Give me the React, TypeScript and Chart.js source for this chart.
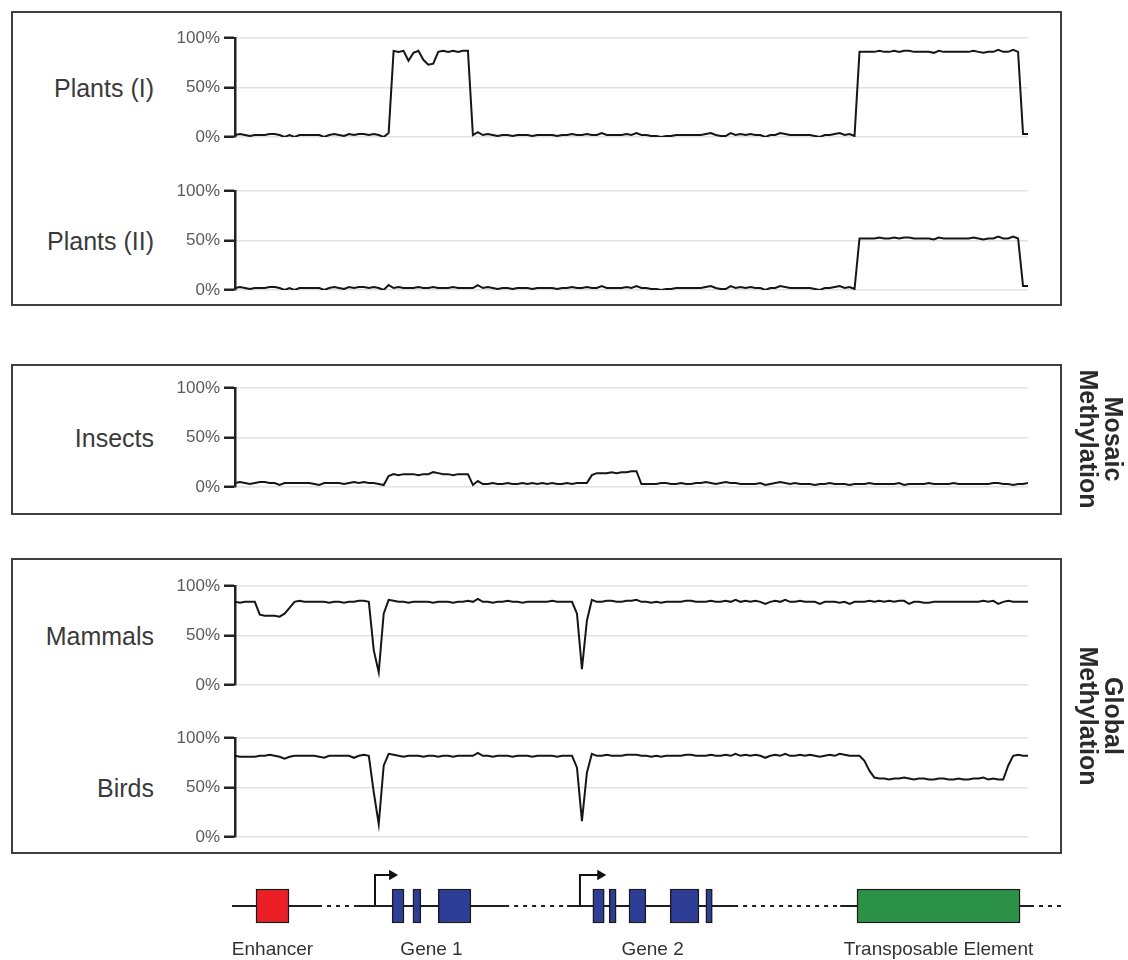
import React, { useEffect, useRef } from "react";
import { Chart, registerables } from "chart.js";

Chart.register(...registerables);

// ---------- DATA ----------
// Genomic bins along the region (0..160)
const POSITIONS: number[] = Array.from({ length: 161 }, (_, i) => i);
const Y_TICKS = [0, 50, 100];

const plantsI: number[] = [
  2, 3, 2, 1, 2, 2, 2, 3, 3, 2, 0, 2, 0, 2, 2, 2, 2, 2, 0, 2, 3, 2, 1, 3, 2, 3, 3, 2, 3, 2, 0, 4,
  87, 86, 87, 77, 85, 87, 78, 73, 74, 86, 87, 86, 87, 86, 87, 87,
  2, 5,
  2, 3, 2, 1, 2, 2, 1, 2, 2, 2, 1, 2, 2, 2, 2, 1, 2, 2, 3, 2, 2, 3, 2, 2, 4, 2, 2, 2, 2, 3,
  2, 4, 2, 2, 1, 1, 0, 1, 1, 2, 2, 2, 2, 2, 2, 3, 4, 2, 1, 1, 4, 2, 3, 2, 3, 2, 2, 0, 2, 2,
  4, 3, 2, 2, 2, 2, 2, 1, 0, 2, 2, 3, 4, 2, 3, 1,
  86, 86, 86, 86, 87, 86, 86, 87, 86, 87, 87, 86, 86, 86, 86, 85, 87, 86, 86, 86, 86, 86, 86,
  87, 86, 85, 86, 86, 88, 86, 86, 88, 86,
  3, 3,
];

const plantsII: number[] = [
  2, 3, 2, 1, 2, 2, 2, 3, 3, 2, 0, 2, 0, 2, 2, 2, 2, 2, 0, 2, 3, 2, 1, 3, 2, 3, 3, 2, 3, 2, 0, 5,
  2, 3, 2, 2, 2, 3, 2, 2, 3, 2, 2, 2, 3, 2, 2, 2,
  2, 5,
  2, 3, 2, 1, 2, 2, 1, 2, 2, 2, 1, 2, 2, 2, 2, 1, 2, 2, 3, 2, 2, 3, 2, 2, 4, 2, 2, 2, 2, 3,
  2, 4, 2, 2, 1, 1, 0, 1, 1, 2, 2, 2, 2, 2, 2, 3, 4, 2, 1, 1, 4, 2, 3, 2, 3, 2, 2, 0, 2, 2,
  4, 3, 2, 2, 2, 2, 2, 1, 0, 2, 2, 3, 4, 2, 3, 1,
  52, 52, 52, 52, 53, 52, 52, 53, 52, 53, 53, 52, 52, 52, 52, 51, 53, 52, 52, 52, 52, 52, 52,
  53, 52, 51, 52, 52, 54, 52, 52, 54, 52,
  4, 4,
];

const insects: number[] = [
  4, 5, 4, 3, 4, 5, 5, 4, 4, 2, 4, 4, 4, 4, 4, 4, 3, 2, 4, 4, 4, 4, 3, 4, 5, 4, 5, 4, 4, 3, 2, 11,
  13, 12, 13, 13, 13, 12, 13, 13, 15, 14, 13, 13, 12, 13, 13, 13,
  2, 6, 3, 3, 4, 3, 3, 4, 3, 3, 4, 3, 4, 3, 4, 3, 4, 3, 3, 4, 3, 4, 4, 4,
  12, 14, 14, 14, 15, 14, 15, 15, 16, 16,
  3, 3, 3, 3, 4, 4, 3, 3, 4, 3, 3, 4, 4, 5, 4, 3, 4, 5, 4, 4, 3, 3, 3, 3, 4, 2, 3, 4, 5, 4,
  3, 4, 3, 3, 3, 2, 3, 3, 4, 3, 3, 3, 2, 3, 3, 3, 4, 3, 3, 3, 3, 3, 4, 2, 3, 3, 3, 3, 4, 3,
  3, 3, 3, 4, 3, 3, 3, 3, 3, 3, 3, 4, 4, 3, 3, 2, 3, 3, 4, 3,
];

const mammals: number[] = [
  84, 83, 84, 84, 84, 71, 70, 70, 70, 69, 72, 78, 84, 85, 84, 84, 84, 84, 84, 83, 84, 84, 83, 84,
  84, 85, 85, 84, 35, 13, 72, 86,
  85, 84, 84, 83, 84, 84, 84, 84, 83, 84, 84, 84, 83, 84, 84, 85, 84, 87, 84, 84, 83, 84, 84, 85,
  84, 84, 83, 84, 84, 84, 84, 84, 85, 84, 84, 84, 84, 72, 16, 65, 86,
  84, 84, 85, 85, 84, 84, 85, 85, 86, 84, 84, 83, 84, 83, 84, 84, 84, 84, 85, 85, 84, 84, 84, 85,
  84, 84, 85, 84, 86, 84, 85, 84, 85, 84, 82, 84, 85, 84, 86, 84, 84, 85, 84, 84, 84, 82, 84, 84,
  84, 83, 84, 82, 84, 84, 84, 85, 84, 85, 84, 85, 84, 85, 85, 82, 84, 84, 83, 83, 84, 84, 84, 84,
  84, 84, 84, 84, 84, 84, 85, 84, 85, 82, 84, 85, 84, 84, 84, 84,
];

const birds: number[] = [
  82, 81, 81, 81, 81, 82, 82, 83, 82, 81, 79, 81, 82, 82, 82, 82, 82, 81, 80, 82, 82, 82, 82, 82,
  80, 82, 83, 82, 45, 13, 72, 84,
  83, 82, 81, 82, 82, 82, 81, 82, 82, 81, 82, 82, 81, 82, 82, 82, 82, 85, 82, 82, 81, 82, 82, 82,
  81, 82, 82, 82, 81, 82, 82, 82, 82, 81, 82, 82, 82, 70, 16, 65, 84,
  82, 82, 83, 82, 82, 82, 83, 83, 83, 82, 82, 81, 82, 81, 82, 82, 82, 82, 83, 83, 82, 82, 82, 83,
  82, 82, 83, 82, 84, 82, 83, 82, 83, 82, 80, 82, 83, 82, 84, 82, 82, 83, 82, 83, 82, 81, 82, 83,
  82, 84, 83, 82, 82, 82, 77, 67, 60,
  59, 59, 58, 59, 59, 60, 59, 58, 59, 59, 58, 58, 59, 59, 58, 58, 59, 58, 58, 59, 59, 60, 58, 59,
  58, 58, 72, 82, 83, 82, 82,
];

// Genome features (same bin units as the tracks)
const backboneSolid: [number, number][] = [[-0.6, 16.75], [24.6, 54.5], [67, 100.7], [122.1, 160.4]];
const backboneDotted: [number, number][] = [[16.75, 24.6], [54.5, 67], [100.7, 122.1], [160.4, 167.1]];
const enhancer: [number, number][] = [[4.24, 10.9]];
const gene1Exons: [number, number][] = [[31.7, 34.1], [35.9, 37.5], [41.0, 47.6]];
const gene2Exons: [number, number][] = [[72.2, 74.5], [75.5, 76.9], [79.5, 82.9], [87.8, 93.6], [95.0, 96.3]];
const transposon: [number, number][] = [[125.5, 158.4]];
const tssPositions = [28.25, 69.6];
const arrowEnds = [31.7, 73.7];
const featureLabels = ["Enhancer", "Gene 1", "Gene 2", "Transposable Element"];
const featureCenters = [7.57, 39.65, 84.25, 141.95];

// ---------- LAYOUT / STYLE ----------
const W = 1128;
const PLOT_LEFT = 235;
const PLOT_RIGHT = 1028;
const X_MIN = 0;
const X_MAX = 160;
const UNIT = (PLOT_RIGHT - PLOT_LEFT) / (X_MAX - X_MIN);
const AXIS_W = 85;
const PAD_V = 15;
const FONT = '"Helvetica Neue", Helvetica, "Liberation Sans", Arial, sans-serif';

type Track = { label: string; values: number[]; top: number; bottom: number };
const TRACKS: Track[] = [
  { label: "Plants (I)", values: plantsI, top: 38, bottom: 137 },
  { label: "Plants (II)", values: plantsII, top: 191, bottom: 290 },
  { label: "Insects", values: insects, top: 388, bottom: 487 },
  { label: "Mammals", values: mammals, top: 586, bottom: 685 },
  { label: "Birds", values: birds, top: 738, bottom: 837 },
];

const BOXES = [
  { top: 11, height: 295 },
  { top: 364, height: 151 },
  { top: 558, height: 296 },
];

function TrackChart({ t }: { t: Track }) {
  const ref = useRef<HTMLCanvasElement>(null);
  const h = t.bottom - t.top + PAD_V * 2;
  useEffect(() => {
    const chart = new Chart(ref.current as HTMLCanvasElement, {
      type: "line",
      data: {
        labels: POSITIONS,
        datasets: [
          {
            data: t.values,
            borderColor: "#161616",
            borderWidth: 2,
            pointRadius: 0,
            tension: 0,
            fill: false,
          },
        ],
      },
      options: {
        animation: false,
        responsive: false,
        maintainAspectRatio: false,
        devicePixelRatio: 1,
        layout: { padding: { left: PLOT_LEFT - AXIS_W, right: W - PLOT_RIGHT, top: PAD_V, bottom: PAD_V } },
        plugins: { legend: { display: false }, tooltip: { enabled: false }, title: { display: false } },
        events: [],
        scales: {
          x: { type: "linear", min: X_MIN, max: X_MAX, display: false, offset: false },
          y: {
            type: "linear",
            min: 0,
            max: 100,
            offset: false,
            afterFit: (s: any) => {
              s.width = AXIS_W;
            },
            afterBuildTicks: (s: any) => {
              s.ticks = Y_TICKS.map((v) => ({ value: v }));
            },
            ticks: {
              callback: (v: any) => v + "%",
              padding: 4,
              color: "#5a5a5a",
              font: { family: FONT, size: 17 },
            },
            grid: {
              color: "#e2e2e2",
              lineWidth: 1.5,
              tickColor: "#222",
              tickWidth: 2.5,
              tickLength: 11,
              drawTicks: true,
            },
            border: { display: true, color: "#222", width: 2.5 },
          },
        },
      },
    } as any);
    return () => chart.destroy();
  }, []);
  return (
    <canvas
      ref={ref}
      width={W}
      height={h}
      style={{ position: "absolute", left: 0, top: t.top - PAD_V, width: W, height: h }}
    />
  );
}

const featureLabelPlugin = {
  id: "featureLabels",
  afterDatasetsDraw(chart: any) {
    const { ctx, scales } = chart;
    const y0 = scales.y.getPixelForValue(0);
    ctx.save();
    ctx.fillStyle = "#333";
    ctx.font = `19px ${FONT}`;
    ctx.textAlign = "center";
    ctx.textBaseline = "alphabetic";
    featureLabels.forEach((lab, i) => {
      ctx.fillText(lab, scales.x.getPixelForValue(featureCenters[i]), y0 + 49);
    });
    ctx.restore();
  },
};

function GeneChart() {
  const ref = useRef<HTMLCanvasElement>(null);
  const top = 865;
  const h = 95;
  const gxMin = -4;
  const gxMax = 170;
  useEffect(() => {
    const lineDs = (segs: [number, number][], dashed: boolean) =>
      segs.map((s) => ({
        type: "line",
        data: [
          { x: s[0], y: 0 },
          { x: s[1], y: 0 },
        ],
        borderColor: "#1e1e1e",
        borderWidth: 2,
        borderDash: dashed ? [4, 5] : [],
        pointRadius: 0,
        clip: false,
        order: 2,
      }));
    const arrows = tssPositions.map((x0, i) => ({
      type: "line",
      data: [
        { x: x0, y: 0 },
        { x: x0, y: 1 },
        { x: arrowEnds[i], y: 1 },
      ],
      borderColor: "#111",
      borderWidth: 2,
      pointRadius: 0,
      clip: false,
      order: 2,
    }));
    const tips = {
      type: "line",
      data: arrowEnds.map((x) => ({ x, y: 1 })),
      showLine: false,
      pointStyle: "triangle",
      rotation: 90,
      pointRadius: 6,
      pointBackgroundColor: "#111",
      pointBorderColor: "#111",
      pointBorderWidth: 0,
      clip: false,
      order: 2,
    };
    const feats = [
      ...enhancer.map((r) => ({ r, c: "#ec1f26" })),
      ...gene1Exons.map((r) => ({ r, c: "#2e3d96" })),
      ...gene2Exons.map((r) => ({ r, c: "#2e3d96" })),
      ...transposon.map((r) => ({ r, c: "#2a9147" })),
    ];
    const bars = {
      type: "bar",
      indexAxis: "y",
      data: feats.map((f) => ({ x: f.r, y: 0 })),
      backgroundColor: feats.map((f) => f.c),
      borderColor: "#1a1a1a",
      borderWidth: 1.5,
      borderSkipped: false,
      barThickness: 34,
      grouped: false,
      clip: false,
      order: 1,
    };
    const chart = new Chart(ref.current as HTMLCanvasElement, {
      type: "bar",
      data: { datasets: [...lineDs(backboneSolid, false), ...lineDs(backboneDotted, true), ...arrows, tips, bars] },
      options: {
        animation: false,
        responsive: false,
        maintainAspectRatio: false,
        devicePixelRatio: 1,
        events: [],
        layout: {
          padding: {
            left: PLOT_LEFT + gxMin * UNIT,
            right: W - (PLOT_LEFT + gxMax * UNIT),
            top: 10,
            bottom: 23,
          },
        },
        plugins: { legend: { display: false }, tooltip: { enabled: false } },
        scales: {
          x: { type: "linear", min: gxMin, max: gxMax, display: false, offset: false, grid: { offset: false } },
          y: { type: "linear", min: -1, max: 1, display: false, offset: false, grid: { offset: false } },
        },
      },
      plugins: [featureLabelPlugin],
    } as any);
    return () => chart.destroy();
  }, []);
  return (
    <canvas
      ref={ref}
      width={W}
      height={h}
      style={{ position: "absolute", left: 0, top, width: W, height: h }}
    />
  );
}

export default function App() {
  return (
    <div
      style={{
        position: "absolute",
        left: 0,
        top: 0,
        width: W,
        height: 960,
        background: "#fff",
        overflow: "hidden",
        fontFamily: FONT,
      }}
    >
      {BOXES.map((b, i) => (
        <div
          key={i}
          style={{
            position: "absolute",
            left: 11,
            top: b.top,
            width: 1051,
            height: b.height,
            border: "2px solid #3f3f3f",
            boxSizing: "border-box",
          }}
        />
      ))}
      {TRACKS.map((t) => (
        <div
          key={t.label + "-lab"}
          style={{
            position: "absolute",
            right: W - 154,
            top: (t.top + t.bottom) / 2,
            transform: "translateY(-50%)",
            fontSize: 25,
            color: "#3a3a3a",
            whiteSpace: "nowrap",
            lineHeight: "30px",
          }}
        >
          {t.label}
        </div>
      ))}
      {TRACKS.map((t) => (
        <TrackChart key={t.label} t={t} />
      ))}
      <GeneChart />
      {[
        { lines: ["Mosaic", "Methylation"], cy: 439 },
        { lines: ["Global", "Methylation"], cy: 716 },
      ].map((g, i) => (
        <div
          key={i}
          style={{
            position: "absolute",
            left: 1101,
            top: g.cy,
            transform: "translate(-50%, -50%) rotate(90deg)",
            fontSize: 25,
            fontWeight: 700,
            color: "#2a2a2a",
            lineHeight: "25px",
            textAlign: "center",
            whiteSpace: "nowrap",
          }}
        >
          {g.lines[0]}
          <br />
          {g.lines[1]}
        </div>
      ))}
    </div>
  );
}
